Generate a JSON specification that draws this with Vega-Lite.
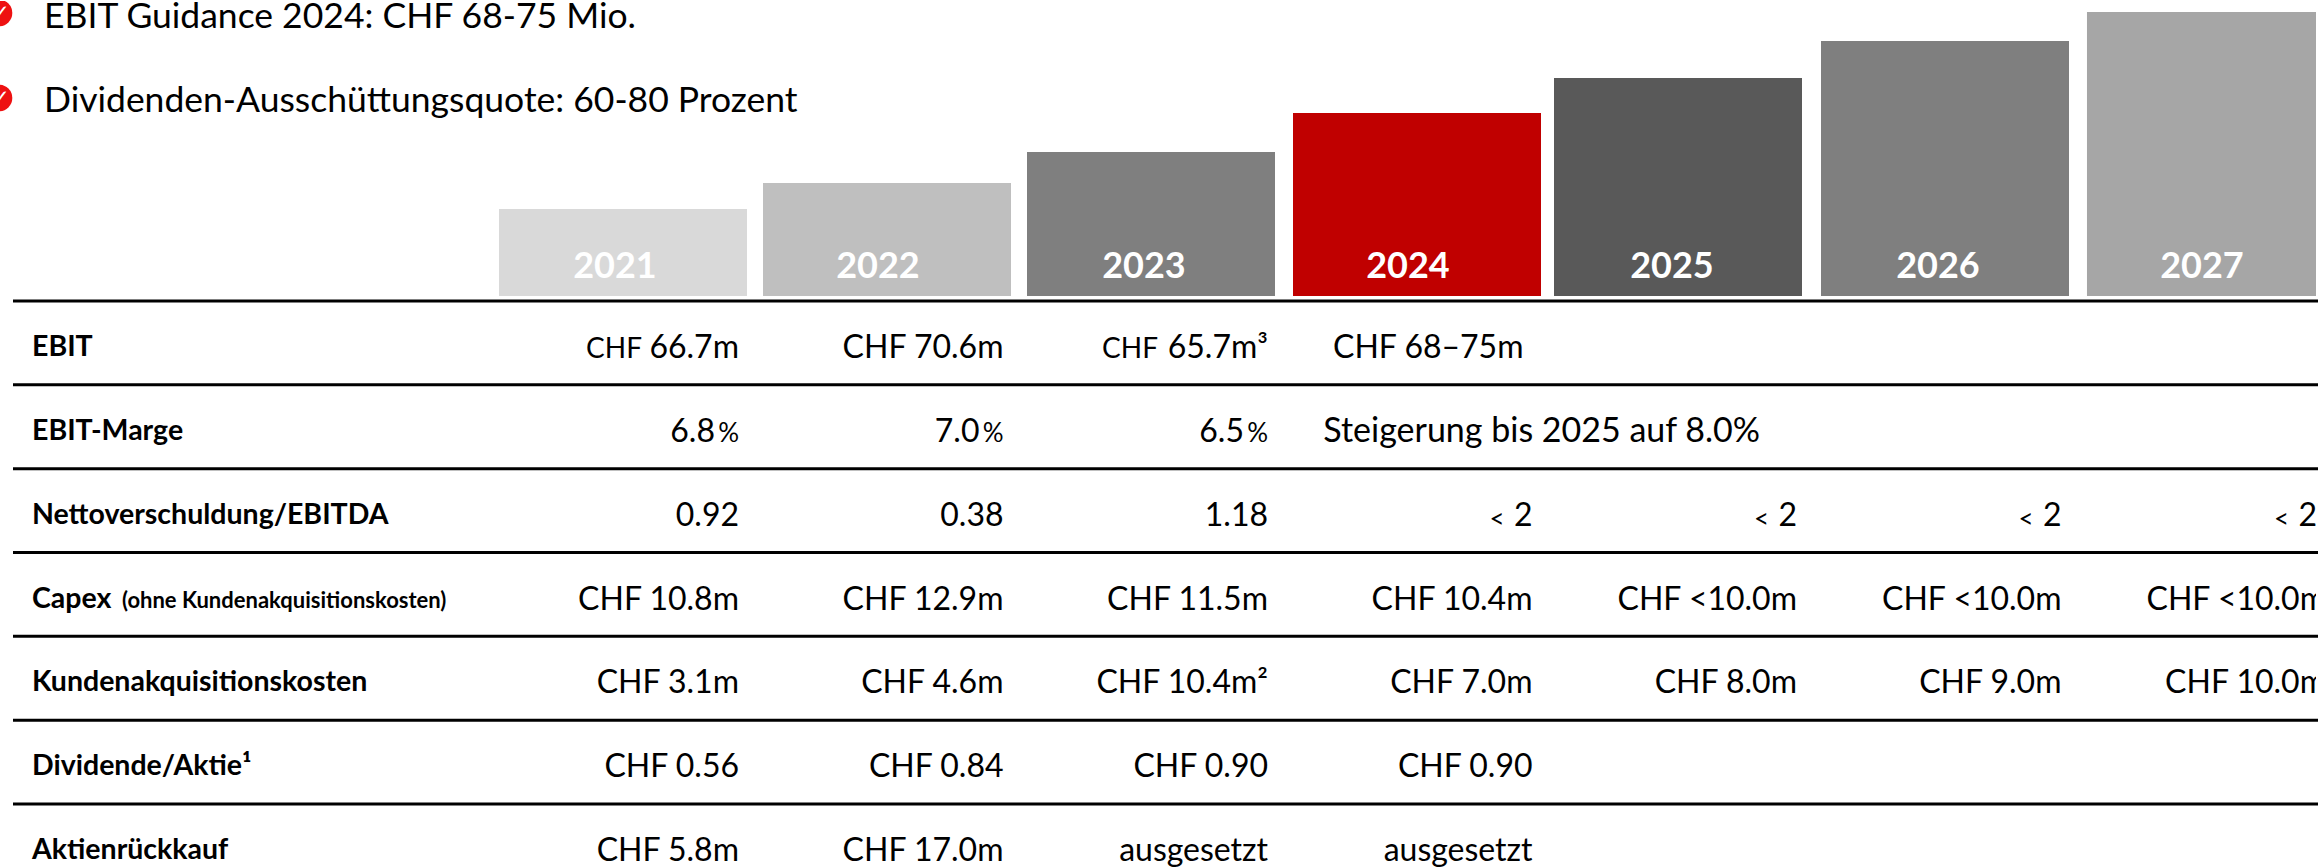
{
"$schema":"https://vega.github.io/schema/vega-lite/v6.json",
"width":2318,"height":868,"padding":0,
"autosize":{"type":"fit","contains":"padding"},
"background":"#ffffff",
"config":{"view":{"stroke":null},"text":{"font":"Lato"}},
"resolve":{"scale":{"x":"independent","y":"independent"}},
"layer":[
{"data":{"values":[{"year":2021,"index":87},{"year":2022,"index":113},{"year":2023,"index":144},{"year":2024,"index":183},{"year":2025,"index":218},{"year":2026,"index":255},{"year":2027,"index":284}]},
 "mark":{"type":"bar","width":248,"clip":true},
 "encoding":{
  "x":{"field":"year","type":"quantitative","axis":null,"scale":{"domain":[2021,2022,2023,2024,2025,2026,2027],"range":[618,887,1151,1417,1678,1945,2216],"zero":false,"nice":false}},
  "y":{"field":"index","type":"quantitative","axis":null,"scale":{"domain":[0,296],"range":[295,-1],"nice":false}},
  "color":{"field":"year","type":"ordinal","legend":null,"scale":{"domain":[2021,2022,2023,2024,2025,2026,2027],"range":["#d9d9d9","#bfbfbf","#7f7f7f","#c00000","#595959","#7f7f7f","#a6a6a6"]}}}},
{"data":{"values":[{"year":2021},{"year":2022},{"year":2023},{"year":2024},{"year":2025},{"year":2026},{"year":2027}]},
 "mark":{"type":"text","align":"center","baseline":"alphabetic","fontSize":36,"fontWeight":"bold","fill":"#ffffff","clip":true},
 "encoding":{
  "x":{"field":"year","type":"quantitative","axis":null,"scale":{"domain":[2021,2022,2023,2024,2025,2026,2027],"range":[615,878,1144,1408,1672,1938,2202],"zero":false,"nice":false}},
  "y":{"datum":18,"type":"quantitative","axis":null,"scale":{"domain":[0,296],"range":[295,-1],"nice":false}},
  "text":{"field":"year","type":"nominal"}}},
{"data":{"values":[{"row":"EBIT"},{"row":"EBIT-Marge"},{"row":"Nettoverschuldung/EBITDA"},{"row":"Capex"},{"row":"Kundenakquisitionskosten"},{"row":"Dividende/Aktie"},{"row":"Aktienrückkauf"}]},
 "mark":{"type":"rule","stroke":"#000000","strokeWidth":3},
 "encoding":{
  "x":{"datum":0,"type":"quantitative","axis":null,"scale":{"domain":[0,1],"range":[13,2318],"nice":false,"zero":false}},
  "x2":{"datum":1},
  "y":{"field":"row","type":"nominal","sort":null,"axis":null,"scale":{"type":"point","padding":0,"domain":["EBIT","EBIT-Marge","Nettoverschuldung/EBITDA","Capex","Kundenakquisitionskosten","Dividende/Aktie","Aktienrückkauf"],"range":[300,803]}}}},
{"data":{"values":[{"row":"EBIT","col":"label","text":"EBIT"},{"row":"EBIT-Marge","col":"label","text":"EBIT-Marge"},{"row":"Nettoverschuldung/EBITDA","col":"label","text":"Nettoverschuldung/EBITDA"},{"row":"Capex","col":"label","text":"Capex"},{"row":"Kundenakquisitionskosten","col":"label","text":"Kundenakquisitionskosten"},{"row":"Dividende/Aktie","col":"label","text":"Dividende/Aktie¹"},{"row":"Aktienrückkauf","col":"label","text":"Aktienrückkauf"}]},
 "mark":{"type":"text","align":"left","baseline":"alphabetic","fontSize":28.5,"fontWeight":"bold","dy":-2,"fill":"#000000"},
 "encoding":{
  "x":{"field":"col","type":"nominal","axis":null,"scale":{"type":"point","padding":0,"domain":["label","note"],"range":[32,122]}},
  "y":{"field":"row","type":"nominal","axis":null,"scale":{"type":"point","padding":0,"domain":["EBIT","EBIT-Marge","Nettoverschuldung/EBITDA","Capex","Kundenakquisitionskosten","Dividende/Aktie","Aktienrückkauf"],"range":[357,860]}},
  "text":{"field":"text","type":"nominal"}}},
{"data":{"values":[{"row":"Capex","col":"note","text":"(ohne Kundenakquisitionskosten)"}]},
 "mark":{"type":"text","align":"left","baseline":"alphabetic","fontSize":22,"fontWeight":"bold","dy":-2,"fill":"#000000"},
 "encoding":{
  "x":{"field":"col","type":"nominal","axis":null,"scale":{"type":"point","padding":0,"domain":["label","note"],"range":[32,122]}},
  "y":{"field":"row","type":"nominal","axis":null,"scale":{"type":"point","padding":0,"domain":["EBIT","EBIT-Marge","Nettoverschuldung/EBITDA","Capex","Kundenakquisitionskosten","Dividende/Aktie","Aktienrückkauf"],"range":[357,860]}},
  "text":{"field":"text","type":"nominal"}}},
{"data":{"values":[
 {"row":"EBIT","year":2021,"text":"66.7m"},{"row":"EBIT","year":2022,"text":"CHF 70.6m"},{"row":"EBIT","year":2023,"text":"65.7m³"},
 {"row":"Nettoverschuldung/EBITDA","year":2021,"text":"0.92"},{"row":"Nettoverschuldung/EBITDA","year":2022,"text":"0.38"},{"row":"Nettoverschuldung/EBITDA","year":2023,"text":"1.18"},
 {"row":"Nettoverschuldung/EBITDA","year":2024,"text":"2"},{"row":"Nettoverschuldung/EBITDA","year":2025,"text":"2"},{"row":"Nettoverschuldung/EBITDA","year":2026,"text":"2"},
 {"row":"Capex","year":2021,"text":"CHF 10.8m"},{"row":"Capex","year":2022,"text":"CHF 12.9m"},{"row":"Capex","year":2023,"text":"CHF 11.5m"},{"row":"Capex","year":2024,"text":"CHF 10.4m"},{"row":"Capex","year":2025,"text":"CHF <10.0m"},{"row":"Capex","year":2026,"text":"CHF <10.0m"},{"row":"Capex","year":2027,"text":"CHF <10.0m"},
 {"row":"Kundenakquisitionskosten","year":2021,"text":"CHF 3.1m"},{"row":"Kundenakquisitionskosten","year":2022,"text":"CHF 4.6m"},{"row":"Kundenakquisitionskosten","year":2023,"text":"CHF 10.4m²"},{"row":"Kundenakquisitionskosten","year":2024,"text":"CHF 7.0m"},{"row":"Kundenakquisitionskosten","year":2025,"text":"CHF 8.0m"},{"row":"Kundenakquisitionskosten","year":2026,"text":"CHF 9.0m"},{"row":"Kundenakquisitionskosten","year":2027,"text":"CHF 10.0m"},
 {"row":"Dividende/Aktie","year":2021,"text":"CHF 0.56"},{"row":"Dividende/Aktie","year":2022,"text":"CHF 0.84"},{"row":"Dividende/Aktie","year":2023,"text":"CHF 0.90"},{"row":"Dividende/Aktie","year":2024,"text":"CHF 0.90"},
 {"row":"Aktienrückkauf","year":2021,"text":"CHF 5.8m"},{"row":"Aktienrückkauf","year":2022,"text":"CHF 17.0m"},{"row":"Aktienrückkauf","year":2023,"text":"ausgesetzt"},{"row":"Aktienrückkauf","year":2024,"text":"ausgesetzt"}]},
 "mark":{"type":"text","align":"right","baseline":"alphabetic","fontSize":32,"fill":"#000000","clip":true},
 "encoding":{
  "x":{"field":"year","type":"quantitative","axis":null,"scale":{"domain":[2021,2027],"range":[739,2326],"zero":false,"nice":false}},
  "y":{"field":"row","type":"nominal","axis":null,"scale":{"type":"point","padding":0,"domain":["EBIT","EBIT-Marge","Nettoverschuldung/EBITDA","Capex","Kundenakquisitionskosten","Dividende/Aktie","Aktienrückkauf"],"range":[357,860]}},
  "text":{"field":"text","type":"nominal"}}},
{"data":{"values":[{"row":"Nettoverschuldung/EBITDA","year":2027,"text":"2"}]},
 "mark":{"type":"text","align":"right","baseline":"alphabetic","fontSize":32,"dx":-9,"fill":"#000000"},
 "encoding":{
  "x":{"field":"year","type":"quantitative","axis":null,"scale":{"domain":[2021,2027],"range":[739,2326],"zero":false,"nice":false}},
  "y":{"field":"row","type":"nominal","axis":null,"scale":{"type":"point","padding":0,"domain":["EBIT","EBIT-Marge","Nettoverschuldung/EBITDA","Capex","Kundenakquisitionskosten","Dividende/Aktie","Aktienrückkauf"],"range":[357,860]}},
  "text":{"field":"text","type":"nominal"}}},
{"data":{"values":[{"row":"EBIT-Marge","year":2021,"text":"6.8"},{"row":"EBIT-Marge","year":2022,"text":"7.0"},{"row":"EBIT-Marge","year":2023,"text":"6.5"}]},
 "mark":{"type":"text","align":"right","baseline":"alphabetic","fontSize":32,"dx":-24,"fill":"#000000"},
 "encoding":{
  "x":{"field":"year","type":"quantitative","axis":null,"scale":{"domain":[2021,2027],"range":[739,2326],"zero":false,"nice":false}},
  "y":{"field":"row","type":"nominal","axis":null,"scale":{"type":"point","padding":0,"domain":["EBIT","EBIT-Marge","Nettoverschuldung/EBITDA","Capex","Kundenakquisitionskosten","Dividende/Aktie","Aktienrückkauf"],"range":[357,860]}},
  "text":{"field":"text","type":"nominal"}}},
{"data":{"values":[{"row":"EBIT-Marge","year":2021,"text":"%"},{"row":"EBIT-Marge","year":2022,"text":"%"},{"row":"EBIT-Marge","year":2023,"text":"%"}]},
 "mark":{"type":"text","align":"right","baseline":"alphabetic","fontSize":26,"fill":"#000000"},
 "encoding":{
  "x":{"field":"year","type":"quantitative","axis":null,"scale":{"domain":[2021,2027],"range":[739,2326],"zero":false,"nice":false}},
  "y":{"field":"row","type":"nominal","axis":null,"scale":{"type":"point","padding":0,"domain":["EBIT","EBIT-Marge","Nettoverschuldung/EBITDA","Capex","Kundenakquisitionskosten","Dividende/Aktie","Aktienrückkauf"],"range":[357,860]}},
  "text":{"field":"text","type":"nominal"}}},
{"data":{"values":[{"row":"Nettoverschuldung/EBITDA","year":2024,"text":"<"},{"row":"Nettoverschuldung/EBITDA","year":2025,"text":"<"},{"row":"Nettoverschuldung/EBITDA","year":2026,"text":"<"}]},
 "mark":{"type":"text","align":"right","baseline":"alphabetic","fontSize":26,"dx":-28,"dy":2,"fill":"#000000"},
 "encoding":{
  "x":{"field":"year","type":"quantitative","axis":null,"scale":{"domain":[2021,2027],"range":[739,2326],"zero":false,"nice":false}},
  "y":{"field":"row","type":"nominal","axis":null,"scale":{"type":"point","padding":0,"domain":["EBIT","EBIT-Marge","Nettoverschuldung/EBITDA","Capex","Kundenakquisitionskosten","Dividende/Aktie","Aktienrückkauf"],"range":[357,860]}},
  "text":{"field":"text","type":"nominal"}}},
{"data":{"values":[{"row":"Nettoverschuldung/EBITDA","year":2027,"text":"<"}]},
 "mark":{"type":"text","align":"right","baseline":"alphabetic","fontSize":26,"dx":-37,"dy":2,"fill":"#000000"},
 "encoding":{
  "x":{"field":"year","type":"quantitative","axis":null,"scale":{"domain":[2021,2027],"range":[739,2326],"zero":false,"nice":false}},
  "y":{"field":"row","type":"nominal","axis":null,"scale":{"type":"point","padding":0,"domain":["EBIT","EBIT-Marge","Nettoverschuldung/EBITDA","Capex","Kundenakquisitionskosten","Dividende/Aktie","Aktienrückkauf"],"range":[357,860]}},
  "text":{"field":"text","type":"nominal"}}},
{"data":{"values":[{"row":"EBIT","year":2021,"text":"CHF"}]},
 "mark":{"type":"text","align":"right","baseline":"alphabetic","fontSize":28,"dx":-97,"fill":"#000000"},
 "encoding":{
  "x":{"field":"year","type":"quantitative","axis":null,"scale":{"domain":[2021,2027],"range":[739,2326],"zero":false,"nice":false}},
  "y":{"field":"row","type":"nominal","axis":null,"scale":{"type":"point","padding":0,"domain":["EBIT","EBIT-Marge","Nettoverschuldung/EBITDA","Capex","Kundenakquisitionskosten","Dividende/Aktie","Aktienrückkauf"],"range":[357,860]}},
  "text":{"field":"text","type":"nominal"}}},
{"data":{"values":[{"row":"EBIT","year":2023,"text":"CHF"}]},
 "mark":{"type":"text","align":"right","baseline":"alphabetic","fontSize":28,"dx":-110,"fill":"#000000"},
 "encoding":{
  "x":{"field":"year","type":"quantitative","axis":null,"scale":{"domain":[2021,2027],"range":[739,2326],"zero":false,"nice":false}},
  "y":{"field":"row","type":"nominal","axis":null,"scale":{"type":"point","padding":0,"domain":["EBIT","EBIT-Marge","Nettoverschuldung/EBITDA","Capex","Kundenakquisitionskosten","Dividende/Aktie","Aktienrückkauf"],"range":[357,860]}},
  "text":{"field":"text","type":"nominal"}}},
{"data":{"values":[{"row":"EBIT","year":2024,"text":"CHF 68–75m"}]},
 "mark":{"type":"text","align":"right","baseline":"alphabetic","fontSize":32,"dx":-9,"fill":"#000000"},
 "encoding":{
  "x":{"field":"year","type":"quantitative","axis":null,"scale":{"domain":[2021,2027],"range":[739,2326],"zero":false,"nice":false}},
  "y":{"field":"row","type":"nominal","axis":null,"scale":{"type":"point","padding":0,"domain":["EBIT","EBIT-Marge","Nettoverschuldung/EBITDA","Capex","Kundenakquisitionskosten","Dividende/Aktie","Aktienrückkauf"],"range":[357,860]}},
  "text":{"field":"text","type":"nominal"}}},
{"data":{"values":[{"row":"EBIT-Marge","year":2025,"text":"Steigerung bis 2025 auf 8.0%"}]},
 "mark":{"type":"text","align":"right","baseline":"alphabetic","fontSize":34,"dx":-37,"fill":"#000000"},
 "encoding":{
  "x":{"field":"year","type":"quantitative","axis":null,"scale":{"domain":[2021,2027],"range":[739,2326],"zero":false,"nice":false}},
  "y":{"field":"row","type":"nominal","axis":null,"scale":{"type":"point","padding":0,"domain":["EBIT","EBIT-Marge","Nettoverschuldung/EBITDA","Capex","Kundenakquisitionskosten","Dividende/Aktie","Aktienrückkauf"],"range":[357,860]}},
  "text":{"field":"text","type":"nominal"}}},
{"data":{"values":[{"item":"EBIT Guidance 2024: CHF 68-75 Mio."},{"item":"Dividenden-Ausschüttungsquote: 60-80 Prozent"}]},
 "mark":{"type":"text","align":"left","baseline":"alphabetic","fontSize":35.5,"fill":"#000000"},
 "encoding":{
  "x":{"datum":1,"type":"quantitative","axis":null,"scale":{"domain":[0,1],"range":[0,44],"nice":false,"zero":false}},
  "y":{"field":"item","type":"nominal","axis":null,"scale":{"type":"point","padding":0,"domain":["EBIT Guidance 2024: CHF 68-75 Mio.","Dividenden-Ausschüttungsquote: 60-80 Prozent"],"range":[27,111]}},
  "text":{"field":"item","type":"nominal"}}},
{"data":{"values":[{"item":"EBIT Guidance 2024: CHF 68-75 Mio."},{"item":"Dividenden-Ausschüttungsquote: 60-80 Prozent"}]},
 "mark":{"type":"point","filled":true,"shape":"circle","size":707,"fill":"#ee1111","opacity":1,"clip":true},
 "encoding":{
  "x":{"datum":0,"type":"quantitative","axis":null,"scale":{"domain":[0,1],"range":[-1,44],"nice":false,"zero":false}},
  "y":{"field":"item","type":"nominal","axis":null,"scale":{"type":"point","padding":0,"domain":["EBIT Guidance 2024: CHF 68-75 Mio.","Dividenden-Ausschüttungsquote: 60-80 Prozent"],"range":[12,97]}}}},
{"data":{"values":[{"item":"EBIT Guidance 2024: CHF 68-75 Mio."},{"item":"Dividenden-Ausschüttungsquote: 60-80 Prozent"}]},
 "mark":{"type":"text","text":"✓","font":"DejaVu Sans","align":"center","baseline":"middle","fontSize":20,"fontWeight":"bold","fill":"#ffffff","clip":true},
 "encoding":{
  "x":{"datum":0,"type":"quantitative","axis":null,"scale":{"domain":[0,1],"range":[1,44],"nice":false,"zero":false}},
  "y":{"field":"item","type":"nominal","axis":null,"scale":{"type":"point","padding":0,"domain":["EBIT Guidance 2024: CHF 68-75 Mio.","Dividenden-Ausschüttungsquote: 60-80 Prozent"],"range":[12,97]}}}}
]
}
